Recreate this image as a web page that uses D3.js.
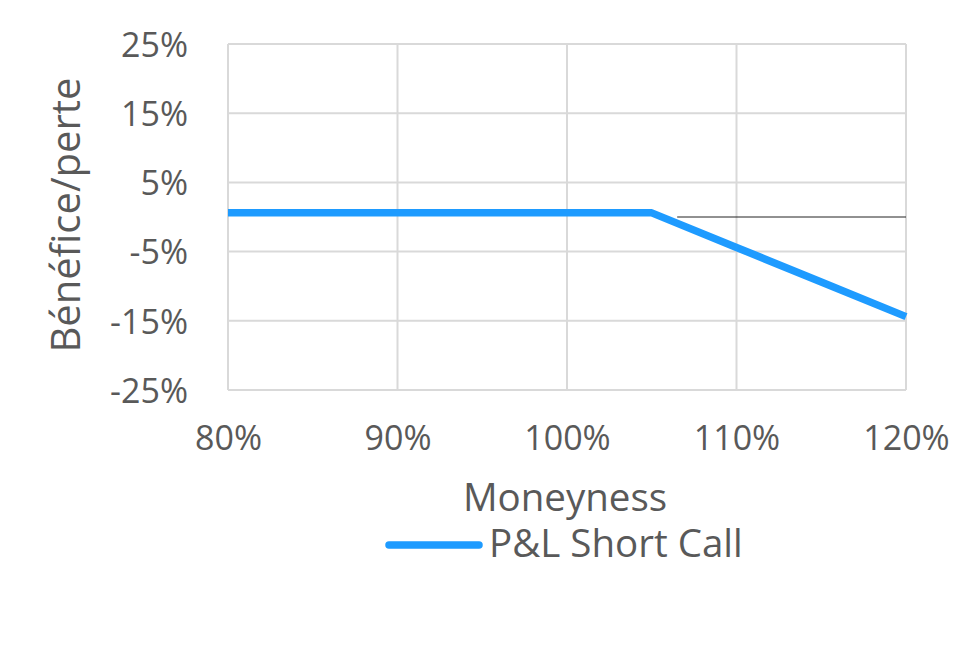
<!DOCTYPE html>
<html><head><meta charset="utf-8">
<script src="https://cdn.jsdelivr.net/npm/d3@7"></script>
<style>body{margin:0;background:#fff}svg{display:block}text{font-family:"Open Sans",sans-serif;fill:#595959}</style>
</head><body>
<svg id="c" width="980" height="646"></svg>
<script>
const moneyness = [80, 85, 90, 95, 100, 105, 110, 115, 120];
const pnl = [0.6, 0.6, 0.6, 0.6, 0.6, 0.6, -4.4, -9.4, -14.4];
const xTicks = [80, 90, 100, 110, 120];
const yTicks = [25, 15, 5, -5, -15, -25];
const seriesName = "P&L Short Call";
const xTitle = "Moneyness";
const yTitle = "Bénéfice/perte";

const svg = d3.select("#c");
const L = 228, R = 906, T = 44, B = 390;
const x = d3.scaleLinear().domain([80, 120]).range([L, R]);
const y = d3.scaleLinear().domain([-25, 25]).range([B, T]);

const g = svg.append("g");
g.selectAll(".vg").data(xTicks).join("line")
  .attr("x1", d => x(d)).attr("x2", d => x(d)).attr("y1", T).attr("y2", B)
  .attr("stroke", "#d9d9d9").attr("stroke-width", 2);
g.selectAll(".hg").data(yTicks).join("line")
  .attr("x1", L).attr("x2", R).attr("y1", d => y(d)).attr("y2", d => y(d))
  .attr("stroke", "#d9d9d9").attr("stroke-width", 2);
// zero line
g.append("line").attr("x1", x(106.5)).attr("x2", R).attr("y1", y(0)).attr("y2", y(0))
  .attr("stroke", "#222").attr("stroke-width", 1);

const yAxis = d3.axisLeft(y).tickValues(yTicks).tickSize(0).tickPadding(0).tickFormat(d => d + "%");
const ya = svg.append("g").attr("transform", `translate(${188},0)`).call(yAxis);
ya.select(".domain").remove();
ya.selectAll("text").attr("font-size", 34).attr("dy", "0.36em").style("font-family", '"Open Sans",sans-serif').attr("fill", "#595959");

const xAxis = d3.axisBottom(x).tickValues(xTicks).tickSize(0).tickPadding(0).tickFormat(d => d + "%");
const xa = svg.append("g").attr("transform", `translate(0,${450})`).call(xAxis);
xa.select(".domain").remove();
xa.selectAll("text").attr("font-size", 34).attr("dy", 0).style("font-family", '"Open Sans",sans-serif').attr("fill", "#595959");

const line = d3.line().x((d, i) => x(moneyness[i])).y(d => y(d));
svg.append("path").datum(pnl).attr("d", line).attr("fill", "none")
  .attr("stroke", "#1e9bff").attr("stroke-width", 7.5).attr("stroke-linejoin", "round");

svg.append("text").attr("x", 565).attr("y", 511).attr("text-anchor", "middle")
  .attr("font-size", 38.5).text(xTitle);
svg.append("text").attr("transform", "translate(80,215) rotate(-90)").attr("text-anchor", "middle")
  .attr("font-size", 40).text(yTitle);

svg.append("line").attr("x1", 389).attr("x2", 479).attr("y1", 545).attr("y2", 545)
  .attr("stroke", "#1e9bff").attr("stroke-width", 7.5).attr("stroke-linecap", "round");
svg.append("text").attr("x", 489).attr("y", 557).attr("font-size", 38.5).text(seriesName);
</script>
</body></html>
